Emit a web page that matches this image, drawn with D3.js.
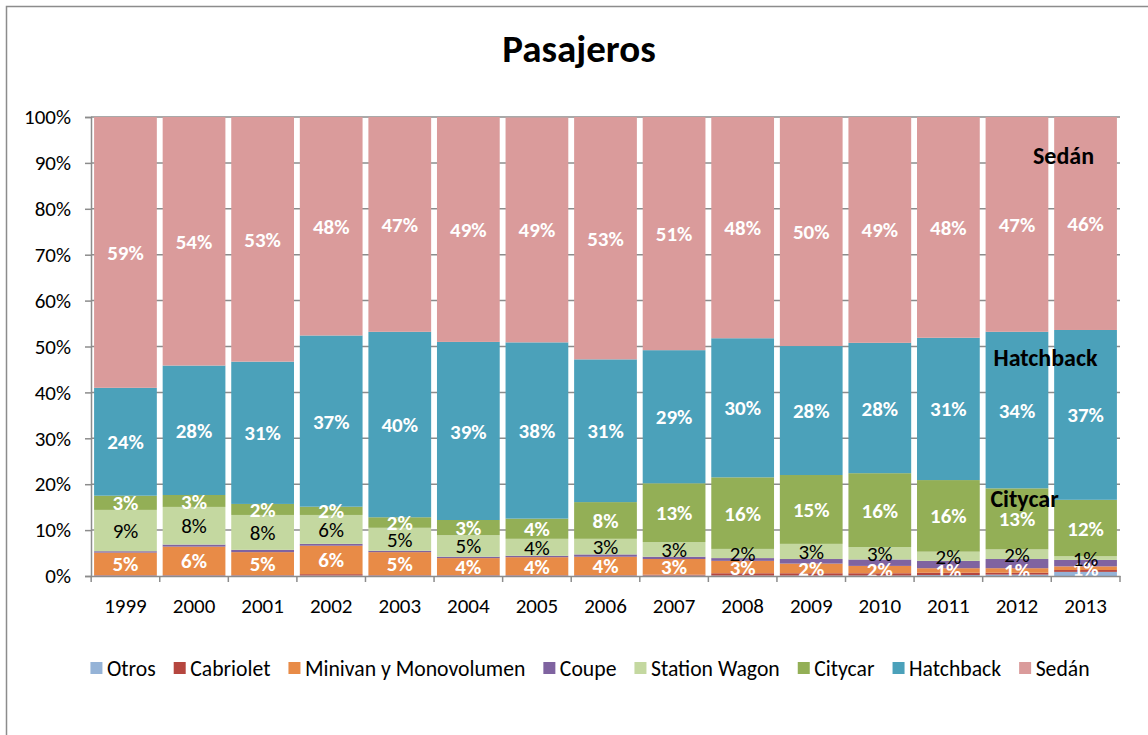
<!DOCTYPE html>
<html>
<head>
<meta charset="utf-8">
<script src="https://cdn.jsdelivr.net/npm/d3@7"></script>
<style>
    body { margin: 0; background: #fff; }
    svg text { font-family: Carlito, Lato, "Open Sans", sans-serif; }
</style>
</head>
<body>
<div id="chart"></div>
<script>
// years on the x axis
const years = ["1999", "2000", "2001", "2002", "2003", "2004", "2005", "2006",
    "2007", "2008", "2009", "2010", "2011", "2012", "2013"];

// series shares in %, bottom to top
const otros        = [0.1, 0.1, 0.1, 0.1, 0.1, 0.1, 0.1, 0.1, 0.1, 0.1, 0.1, 0.1, 0.2, 0.3, 0.9];
const cabriolet    = [0.1, 0.1, 0.1, 0.3, 0.1, 0.1, 0.1, 0.1, 0.2, 0.5, 0.5, 0.5, 0.5, 0.4, 0.4];
const minivan      = [4.9, 6.2, 5.0, 6.2, 5.0, 3.7, 3.9, 4.0, 3.4, 2.7, 2.1, 1.6, 1.0, 1.0, 0.8];
const coupe        = [0.3, 0.45, 0.5, 0.4, 0.3, 0.3, 0.3, 0.5, 0.5, 0.6, 1.0, 1.4, 1.6, 2.0, 1.4];
const stationWagon = [9.0, 8.2, 7.6, 6.3, 5.0, 4.7, 3.7, 3.4, 3.2, 2.0, 3.3, 2.7, 2.0, 2.1, 0.8];
const citycar      = [3.1, 2.6, 2.4, 1.8, 2.3, 3.3, 4.4, 8.0, 12.8, 15.6, 15.0, 16.1, 15.6, 13.3, 12.3];
const hatchback    = [23.5, 28.2, 31.0, 37.3, 40.4, 38.8, 38.4, 31.1, 29.0, 30.3, 28.1, 28.4, 31.0, 34.1, 37.0];
const sedan        = [59.0, 54.15, 53.3, 47.6, 46.8, 49.0, 49.0, 52.8, 50.8, 48.2, 49.9, 49.2, 48.1, 46.8, 46.4];

const seriesNames = ["Otros", "Cabriolet", "Minivan y Monovolumen", "Coupe",
    "Station Wagon", "Citycar", "Hatchback", "Sedán"];
const seriesValues = [otros, cabriolet, minivan, coupe, stationWagon, citycar, hatchback, sedan];
const seriesColors = ["#95b3d7", "#b5463f", "#e88b47", "#7f63a0",
    "#c4d8a0", "#93af56", "#4ba1ba", "#da9b9b"];
// which series get value labels and in which colour
const labelColor = {
    "Minivan y Monovolumen": "#fff", "Station Wagon": "#000",
    "Citycar": "#fff", "Hatchback": "#fff", "Sedán": "#fff"
};
const yTicks = [0, 10, 20, 30, 40, 50, 60, 70, 80, 90, 100];

const width = 1148, height = 735;
const margin = {top: 117, right: 28, bottom: 159, left: 91};
const fs = "21px";

const svg = d3.select("#chart").append("svg")
    .attr("width", width)
    .attr("height", height);

// chart frame
svg.append("rect")
    .attr("x", 6.5).attr("y", 6.5)
    .attr("width", 1160).attr("height", 760)
    .attr("fill", "none")
    .attr("stroke", "#8c8c8c")
    .attr("stroke-width", 1.5);

svg.append("text")
    .attr("x", 579).attr("y", 62)
    .attr("text-anchor", "middle")
    .style("font-size", "39px")
    .style("font-weight", "bold")
    .text("Pasajeros");

// build table for the stack
const table = years.map((yr, i) => {
    const row = {year: yr};
    seriesNames.forEach((s, j) => { row[s] = seriesValues[j][i]; });
    return row;
});
const stacked = d3.stack().keys(seriesNames)(table);

const x = d3.scaleBand()
    .domain(years)
    .range([margin.left, width - margin.right])
    .paddingInner(0.085)
    .paddingOuter(0.045);

const y = d3.scaleLinear()
    .domain([0, 100])
    .range([height - margin.bottom, margin.top]);

// gridlines
svg.append("g")
    .selectAll("line")
    .data(yTicks.slice(1))
    .enter()
    .append("line")
    .attr("x1", margin.left).attr("x2", width - margin.right)
    .attr("y1", d => y(d)).attr("y2", d => y(d))
    .attr("stroke", "#8c8c8c")
    .attr("stroke-width", 1.5);

// bars
const layers = svg.append("g")
    .selectAll("g")
    .data(stacked)
    .enter()
    .append("g")
    .attr("fill", (d, i) => seriesColors[i]);

layers.selectAll("rect")
    .data(d => d)
    .enter()
    .append("rect")
    .attr("x", d => x(d.data.year))
    .attr("y", d => y(d[1]))
    .attr("width", x.bandwidth())
    .attr("height", d => y(d[0]) - y(d[1]));

// value labels
stacked.forEach(layer => {
    const col = labelColor[layer.key];
    if (!col) return;
    svg.append("g")
        .selectAll("text")
        .data(layer)
        .enter()
        .append("text")
        .attr("x", d => x(d.data.year) + x.bandwidth() / 2)
        .attr("y", d => y((d[0] + d[1]) / 2))
        .attr("dy", "0.36em")
        .attr("text-anchor", "middle")
        .attr("fill", col)
        .style("font-size", fs)
        .style("font-weight", col === "#fff" ? "bold" : "normal")
        .text(d => Math.round(d[1] - d[0]) + "%");
});

// axes
const yAxis = svg.append("g")
    .attr("transform", "translate(" + margin.left + ",0)")
    .call(d3.axisLeft(y).tickValues(yTicks).tickSize(6).tickPadding(14)
        .tickFormat(d => d + "%"));
yAxis.selectAll("text").style("font-size", fs).attr("fill", "#000");

const xAxis = svg.append("g")
    .attr("transform", "translate(0," + y(0) + ")")
    .call(d3.axisBottom(x).tickSize(0).tickPadding(22));
xAxis.selectAll("text").style("font-size", fs).attr("fill", "#000");

// category separator ticks
const step = x.step();
const bounds = years.map(yr => x(yr) - (step - x.bandwidth()) / 2).concat([width - margin.right]);
xAxis.selectAll(".sep")
    .data(bounds)
    .enter()
    .append("line")
    .attr("x1", d => d).attr("x2", d => d)
    .attr("y1", 0).attr("y2", 6)
    .attr("stroke", "#8c8c8c")
    .attr("stroke-width", 1.5);

[yAxis, xAxis].forEach(a => {
    a.selectAll(".domain").attr("stroke", "#8c8c8c").attr("stroke-width", 1.5);
    a.selectAll(".tick line").attr("stroke", "#8c8c8c").attr("stroke-width", 1.5);
});

// annotations next to the 2013 bar
const notes = [
    {text: "Sedán", year: "2013", dx: -22, v: 91.6},
    {text: "Hatchback", year: "2013", dx: -40, v: 47.6},
    {text: "Citycar", year: "2013", dx: -61, v: 16.9}
];
svg.append("g")
    .selectAll("text")
    .data(notes)
    .enter()
    .append("text")
    .attr("x", d => x(d.year) + x.bandwidth() / 2 + d.dx)
    .attr("y", d => y(d.v))
    .attr("dy", "0.36em")
    .attr("text-anchor", "middle")
    .style("font-size", "24px")
    .style("font-weight", "bold")
    .text(d => d.text);

// legend
const legend = svg.append("g");
let lx = 0;
seriesNames.forEach((name, i) => {
    const g = legend.append("g");
    g.append("rect")
        .attr("x", 0).attr("y", -6)
        .attr("width", 12).attr("height", 12)
        .attr("fill", seriesColors[i]);
    const t = g.append("text")
        .attr("x", 16.5).attr("dy", "0.36em")
        .style("font-size", "21.7px")
        .text(name);
    const w = 16.5 + t.node().getComputedTextLength();
    g.attr("transform", "translate(" + lx + ",0)");
    lx += w + 18;
});
const legendW = lx - 18;
legend.attr("transform", "translate(" + (590 - legendW / 2) + ",668)");
</script>
</body>
</html>
